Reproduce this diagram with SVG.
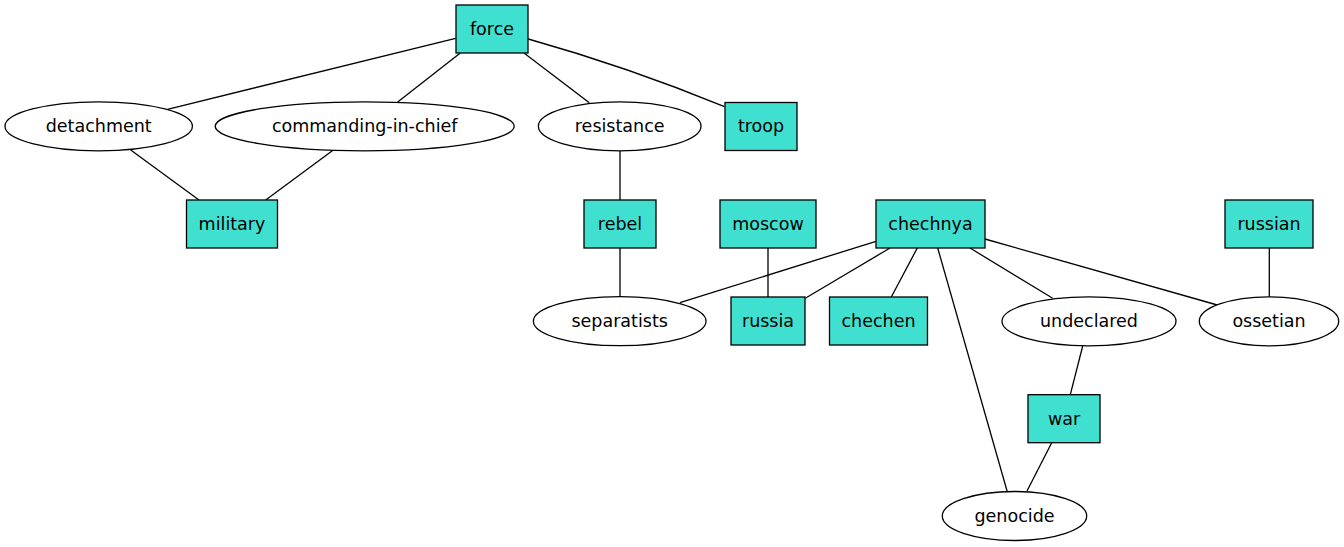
<svg xmlns="http://www.w3.org/2000/svg" width="1344" height="547" viewBox="0 0 1344 547">
<style>
.box{fill:#40e0d0;stroke:#000;stroke-width:1.3}
.ell{fill:#fff;stroke:#000;stroke-width:1.3}
.lbl{font-family:"DejaVu Sans",sans-serif;font-size:17.5px;fill:#000;text-anchor:middle}
#edges line,#edges path{stroke:#000;stroke-width:1.3;fill:none}
</style>
<rect width="1344" height="547" fill="#fff"/>
<g id="edges">
<line x1="455.6" y1="38.3" x2="167.5" y2="109.3"/>
<line x1="460" y1="53.3" x2="397.7" y2="102"/>
<line x1="524.3" y1="53.3" x2="589.3" y2="102.7"/>
<path d="M528.3,39 Q628,67 724.5,106.7"/>
<line x1="130.7" y1="150" x2="199" y2="200"/>
<line x1="332.3" y1="150.7" x2="265.7" y2="200"/>
<line x1="620" y1="150.7" x2="620" y2="200"/>
<line x1="620" y1="248" x2="620" y2="296.7"/>
<line x1="768" y1="248" x2="768" y2="297"/>
<line x1="876" y1="241.3" x2="680" y2="302.7"/>
<line x1="890" y1="248" x2="805.3" y2="298.3"/>
<line x1="917.3" y1="248" x2="891.3" y2="297"/>
<line x1="937.7" y1="248" x2="1007.3" y2="491.7"/>
<line x1="970" y1="248" x2="1052.7" y2="298.3"/>
<line x1="985" y1="239" x2="1217.3" y2="305"/>
<line x1="1269.3" y1="248" x2="1269.3" y2="297"/>
<line x1="1082.7" y1="346" x2="1070.3" y2="394.7"/>
<line x1="1051.7" y1="442.7" x2="1027" y2="491"/>
</g>
<g id="force"><rect class="box" x="456" y="5" width="72" height="48"/><text class="lbl" x="492" y="35">force</text></g>
<g id="detachment"><ellipse class="ell" cx="98.7" cy="126.3" rx="93.7" ry="24.5"/><text class="lbl" x="98.7" y="132">detachment</text></g>
<g id="commanding-in-chief"><ellipse class="ell" cx="364.7" cy="126.3" rx="149.5" ry="24.5"/><text class="lbl" x="364.7" y="132">commanding-in-chief</text></g>
<g id="resistance"><ellipse class="ell" cx="619.7" cy="126.3" rx="81.3" ry="24.5"/><text class="lbl" x="619.7" y="132">resistance</text></g>
<g id="troop"><rect class="box" x="725" y="102.5" width="72" height="48"/><text class="lbl" x="761" y="132">troop</text></g>
<g id="military"><rect class="box" x="186.5" y="200" width="91" height="48"/><text class="lbl" x="232" y="229.5">military</text></g>
<g id="rebel"><rect class="box" x="584" y="200" width="72" height="48"/><text class="lbl" x="620" y="229.5">rebel</text></g>
<g id="moscow"><rect class="box" x="720" y="200" width="96" height="48"/><text class="lbl" x="768" y="229.5">moscow</text></g>
<g id="chechnya"><rect class="box" x="876" y="200" width="109" height="48"/><text class="lbl" x="930.5" y="229.5">chechnya</text></g>
<g id="russian"><rect class="box" x="1225" y="200" width="88" height="48"/><text class="lbl" x="1269" y="229.5">russian</text></g>
<g id="separatists"><ellipse class="ell" cx="619.7" cy="321.2" rx="86.3" ry="24.5"/><text class="lbl" x="619.7" y="327">separatists</text></g>
<g id="russia"><rect class="box" x="731" y="297" width="74" height="48"/><text class="lbl" x="768" y="327">russia</text></g>
<g id="chechen"><rect class="box" x="829.5" y="297" width="98" height="48"/><text class="lbl" x="878.5" y="327">chechen</text></g>
<g id="undeclared"><ellipse class="ell" cx="1089" cy="321.3" rx="87" ry="24.5"/><text class="lbl" x="1089" y="327">undeclared</text></g>
<g id="ossetian"><ellipse class="ell" cx="1269" cy="321.3" rx="69.7" ry="24.5"/><text class="lbl" x="1269" y="327">ossetian</text></g>
<g id="war"><rect class="box" x="1028" y="394.7" width="72" height="48"/><text class="lbl" x="1064" y="424.5">war</text></g>
<g id="genocide"><ellipse class="ell" cx="1014.5" cy="516" rx="72.2" ry="24.5"/><text class="lbl" x="1014.5" y="522">genocide</text></g>
</svg>
